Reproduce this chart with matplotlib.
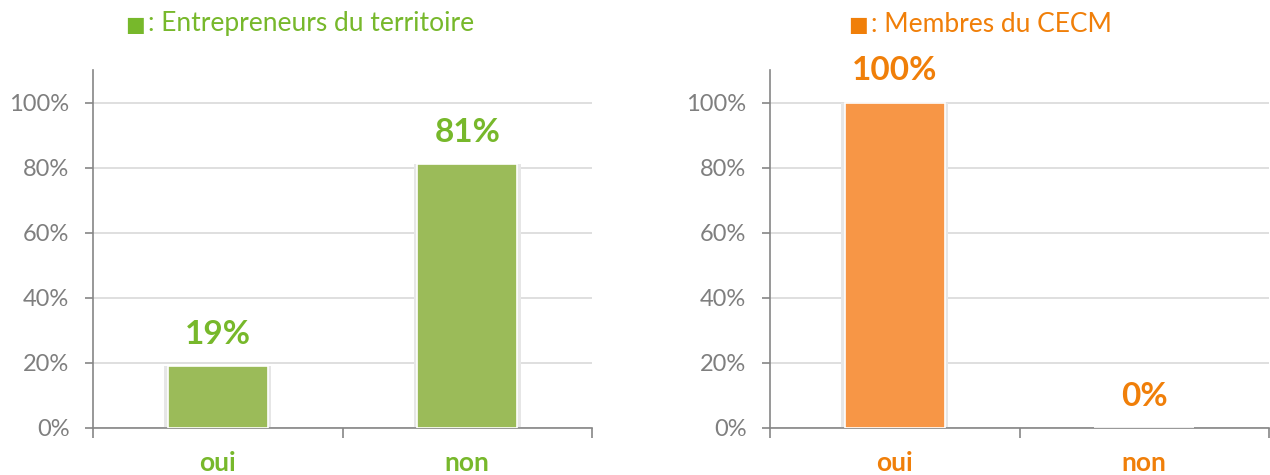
import matplotlib
matplotlib.use("Agg")
import matplotlib.pyplot as plt
from matplotlib.ticker import FuncFormatter

categories = ["oui", "non"]
entrepreneurs = [19, 81]
cecm = [100, 0]
yticks = [0, 20, 40, 60, 80, 100]
titles = ["Entrepreneurs du territoire", "Membres du CECM"]

plt.rcParams['font.family'] = ['Lato', 'DejaVu Sans']

fig = plt.figure(figsize=(12.7, 4.75), dpi=100)

panels = [
    dict(rect=[93/1270, 47/475, 499/1270, 358/475], values=entrepreneurs,
         bar="#9BBB59", text="#77B82B", title=titles[0], tx=125/1270),
    dict(rect=[770/1270, 47/475, 499/1270, 358/475], values=cecm,
         bar="#F79646", text="#F07F09", title=titles[1], tx=848/1270),
]

for p in panels:
    ax = fig.add_axes(p["rect"])
    x = list(range(len(categories)))
    # soft shadow
    ax.bar(x, p["values"], width=0.43, color="#E6E6E6", zorder=2)
    ax.bar(x, p["values"], width=0.40, color=p["bar"], edgecolor="white",
           linewidth=1.2, zorder=3)
    ax.set_xlim(-0.5, 1.5)
    ax.set_ylim(0, 110)
    ax.set_yticks(yticks)
    ax.yaxis.set_major_formatter(FuncFormatter(lambda v, _: f"{int(v)}%"))
    ax.grid(axis="y", color="#D9D9D9", linewidth=1.2, zorder=0)
    ax.set_axisbelow(True)
    for s in ["top", "right"]:
        ax.spines[s].set_visible(False)
    for s in ["left", "bottom"]:
        ax.spines[s].set_color("#868686")
        ax.spines[s].set_linewidth(1.2)
    ax.tick_params(axis="y", colors="#868686", labelcolor="#7F7F7F",
                   labelsize=17, length=6, width=1.2, direction="out", pad=11)
    ax.set_xticks([-0.5, 0.5, 1.5])
    ax.set_xticklabels([])
    ax.tick_params(axis="x", colors="#868686", length=7, width=1.2, direction="out")
    for xi, c in zip(x, categories):
        ax.annotate(c, (xi, 0), xytext=(0, -35), textcoords="offset pixels",
                    ha="center", va="center", fontsize=19, fontweight="bold",
                    color=p["text"])
    for xi, v in zip(x, p["values"]):
        ax.annotate(f"{v}%", (xi, v), xytext=(0, 32), textcoords="offset pixels",
                    ha="center", va="center", fontsize=24, fontweight="bold",
                    color=p["text"])
    fig.text(p["tx"], 1 - 25/475, "\u25A0", ha="left", va="center",
             fontsize=15, color=p["text"], family=['DejaVu Sans'])
    fig.text(p["tx"] + 23/1270, 1 - 24/475, ": " + p["title"], ha="left", va="center",
             fontsize=19, color=p["text"], family=['Lato', 'DejaVu Sans'])

fig.savefig("out.png", dpi=100)
